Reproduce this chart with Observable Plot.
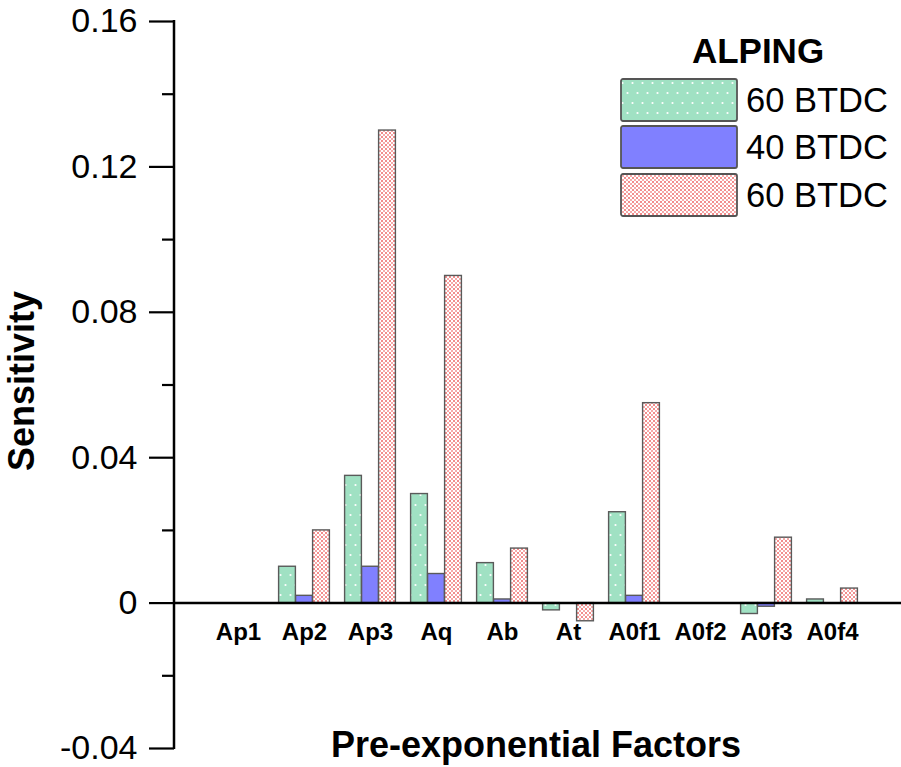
<!DOCTYPE html>
<html>
<head>
<meta charset="utf-8">
<script src="https://cdn.jsdelivr.net/npm/d3@7"></script>
<script src="https://cdn.jsdelivr.net/npm/@observablehq/plot@0.6"></script>
<style>
  html, body { margin: 0; padding: 0; background: #fff; }
  #wrap { position: relative; width: 901px; height: 767px; font-family: Arial, "Liberation Sans", sans-serif; }
  #legend { position: absolute; left: 620px; top: 30px; }
  #legend .title { font-weight: bold; font-size: 35px; text-align: center; width: 276px; line-height: 42px; margin-bottom: 4px; }
  #legend .row { display: flex; align-items: center; height: 47.5px; }
  #legend .row svg { display: block; }
  #legend .row span { font-size: 34.5px; margin-left: 8px; line-height: 1; }
</style>
</head>
<body>
<div id="wrap"><div id="chart"></div><div id="legend"></div></div>
<script>
// Sensitivity of ignition delay to each pre-exponential factor
const factors = ["Ap1", "Ap2", "Ap3", "Aq", "Ab", "At", "A0f1", "A0f2", "A0f3", "A0f4"];
const seriesNames = ["60 BTDC", "40 BTDC", "60 BTDC"];
const green60 = [0, 0.010, 0.035, 0.030, 0.011, -0.002, 0.025, 0, -0.003, 0.001];
const blue40  = [0, 0.002, 0.010, 0.008, 0.001, 0, 0.002, 0, -0.001, 0];
const red60   = [0, 0.020, 0.130, 0.090, 0.015, -0.005, 0.055, 0, 0.018, 0.004];
const majorTicks = [-0.04, 0, 0.04, 0.08, 0.12, 0.16];
const minorTicks = [-0.02, 0.02, 0.06, 0.10, 0.14];
const legendTitle = "ALPING";

const fills = ["url(#dotsGreen)", "#8080ff", "url(#dotsRed)"];
const seriesValues = [green60, blue40, red60];

const W = 901, H = 767;
const marginLeft = 174, marginTop = 21, marginBottom = 19, marginRight = 0;
const step = 66.2, barW = 17;
const inset = (step - barW) / 2;
const font = "Arial, 'Liberation Sans', sans-serif";

const barMarks = seriesValues.map((vals, s) =>
  Plot.barY(factors.map((f, i) => ({factor: f, value: vals[i]})), {
    x: "factor",
    y: "value",
    fill: fills[s],
    stroke: "#5a5a5a",
    strokeWidth: 1.4,
    insetLeft: inset,
    insetRight: inset,
    dx: (s - 1) * barW
  })
);

const plot = Plot.plot({
  width: W,
  height: H,
  marginLeft, marginTop, marginBottom, marginRight,
  style: {fontFamily: font, background: "#fff", color: "#000", overflow: "visible"},
  x: {domain: factors, range: [204, 866], padding: 0, axis: null},
  y: {domain: [-0.04, 0.16], axis: null},
  marks: [
    ...barMarks,
    Plot.ruleY([0], {stroke: "#000", strokeWidth: 2.5}),
    Plot.axisY({ticks: majorTicks, tickSize: 25, tickPadding: 12, strokeWidth: 2.2,
      fontSize: 34, tickFormat: d => d === 0 ? "0" : d.toFixed(2), label: null}),
    Plot.axisY({ticks: minorTicks, tickSize: 12, strokeWidth: 2.2, tickFormat: () => "", label: null}),
    Plot.text(factors, {x: d => d, y: () => 0, dy: 29, fontSize: 24, fontWeight: "bold", fill: "#000"}),
    Plot.text(["Sensitivity"], {frameAnchor: "left", textAnchor: "middle", lineAnchor: "middle",
      dx: -152, dy: -4, rotate: -90, fontSize: 36, fontWeight: "bold", fill: "#000"}),
    Plot.text(["Pre-exponential Factors"], {frameAnchor: "bottom", lineAnchor: "middle",
      dx: -2, dy: -3, fontSize: 36, fontWeight: "bold", fill: "#000"})
  ]
});

// fill patterns for the dotted bars
const svg = d3.select(plot);
const defs = svg.insert("defs", ":first-child");
const pg = defs.append("pattern").attr("id", "dotsGreen").attr("patternUnits", "userSpaceOnUse")
  .attr("width", 10).attr("height", 20);
pg.append("rect").attr("width", 10).attr("height", 20).attr("fill", "#a0e1c3");
pg.append("circle").attr("cx", 2.5).attr("cy", 5).attr("r", 1.1).attr("fill", "#fff");
pg.append("circle").attr("cx", 7.5).attr("cy", 15).attr("r", 1.1).attr("fill", "#fff");
const pr = defs.append("pattern").attr("id", "dotsRed").attr("patternUnits", "userSpaceOnUse")
  .attr("width", 4).attr("height", 4);
pr.append("rect").attr("width", 4).attr("height", 4).attr("fill", "#fff");
pr.append("rect").attr("x", 0.2).attr("y", 0.2).attr("width", 1.6).attr("height", 1.6).attr("fill", "#ec4c4c");
pr.append("rect").attr("x", 2.2).attr("y", 2.2).attr("width", 1.6).attr("height", 1.6).attr("fill", "#f07a7a");

// vertical axis line along the left edge of the frame
const yr = plot.scale("y").range;
svg.append("line")
  .attr("x1", marginLeft).attr("x2", marginLeft)
  .attr("y1", yr[0] + 1).attr("y2", yr[1] - 1)
  .attr("stroke", "#000").attr("stroke-width", 2.5);

document.getElementById("chart").appendChild(plot);

// legend
const legend = d3.select("#legend");
legend.append("div").attr("class", "title").text(legendTitle);
seriesNames.forEach((name, s) => {
  const row = legend.append("div").attr("class", "row");
  const sw = row.append("svg").attr("width", 118).attr("height", 44);
  sw.append("rect").attr("x", 1).attr("y", 1).attr("width", 116).attr("height", 42)
    .attr("rx", 2).attr("fill", fills[s]).attr("stroke", "#555").attr("stroke-width", 1.8);
  row.append("span").text(name);
});
</script>
</body>
</html>
